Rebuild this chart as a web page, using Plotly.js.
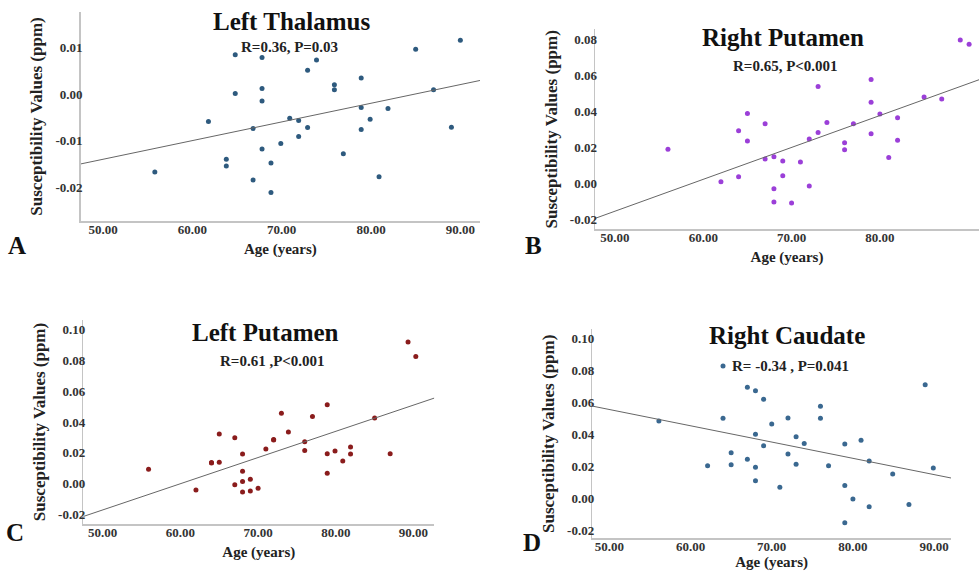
<!DOCTYPE html>
<html><head><meta charset="utf-8">
<script src="https://cdn.plot.ly/plotly-3.0.1.min.js"></script>
<style>html,body{margin:0;padding:0;background:#fff;}#chart{width:979px;height:571px;}</style>
</head><body><div id="chart"></div>
<script>
// ---- Data ----
const thalamusLAge = [55.8, 61.8, 63.8, 63.8, 64.8, 64.8, 66.8, 66.8, 67.8, 67.8, 67.8, 67.8, 68.8, 68.8, 69.9, 70.9, 71.9, 71.9, 72.9, 72.9, 73.9, 75.9, 75.9, 76.9, 78.9, 78.9, 78.9, 79.9, 80.9, 81.9, 85.0, 87.0, 89.0, 90.0];
const thalamusLQSM = [-0.0167, -0.0059, -0.0140, -0.0154, 0.0084, 0.0001, -0.0074, -0.0184, 0.0078, 0.0012, -0.0015, -0.0118, -0.0148, -0.0211, -0.0106, -0.0052, -0.0057, -0.0091, 0.0051, -0.0072, 0.0073, 0.0020, 0.0009, -0.0128, 0.0034, -0.0029, -0.0076, -0.0054, -0.0177, -0.0031, 0.0096, 0.0009, -0.0071, 0.0115];

const putamenRAge = [56.0, 62.0, 64.0, 64.0, 65.0, 65.0, 67.0, 67.0, 68.0, 68.0, 68.0, 69.0, 69.0, 70.0, 71.0, 72.0, 72.0, 73.0, 73.0, 74.0, 76.0, 76.0, 77.0, 79.0, 79.0, 79.0, 80.0, 81.0, 82.0, 82.0, 85.0, 87.0, 89.1, 90.1];
const putamenRQSM = [0.0190, 0.0010, 0.0294, 0.0038, 0.0390, 0.0237, 0.0333, 0.0136, 0.0149, -0.0029, -0.0103, 0.0125, 0.0043, -0.0109, 0.0120, 0.0248, -0.0014, 0.0540, 0.0283, 0.0340, 0.0227, 0.0188, 0.0333, 0.0578, 0.0452, 0.0277, 0.0387, 0.0144, 0.0366, 0.0240, 0.0481, 0.0470, 0.0799, 0.0775];

const putamenLAge = [55.9, 62.0, 64.0, 64.0, 65.0, 65.0, 67.0, 67.0, 68.0, 68.0, 68.0, 68.0, 69.0, 69.0, 70.0, 71.0, 72.0, 72.0, 73.0, 73.9, 76.0, 76.0, 77.0, 78.9, 78.9, 78.9, 79.9, 80.9, 81.9, 81.9, 85.0, 87.0, 89.3, 90.3];
const putamenLQSM = [0.0092, -0.0042, 0.0133, 0.0136, 0.0322, 0.0138, 0.0298, -0.0008, 0.0192, 0.0079, 0.0012, -0.0055, 0.0027, -0.0049, -0.0031, 0.0225, 0.0283, 0.0286, 0.0457, 0.0335, 0.0272, 0.0214, 0.0435, 0.0513, 0.0194, 0.0066, 0.0212, 0.0146, 0.0238, 0.0192, 0.0426, 0.0194, 0.0921, 0.0826];

const caudateRAge = [56.1, 62.1, 64.0, 64.0, 65.0, 65.0, 67.0, 67.0, 68.0, 68.0, 68.0, 68.0, 69.0, 69.0, 70.0, 71.0, 72.0, 72.0, 73.0, 73.0, 74.0, 76.0, 76.0, 77.0, 79.0, 79.0, 79.0, 80.0, 81.0, 82.0, 82.0, 84.9, 86.9, 88.9, 89.9];
const caudateRQSM = [0.0482, 0.0202, 0.0826, 0.0499, 0.0284, 0.0208, 0.0693, 0.0242, 0.0672, 0.0399, 0.0192, 0.0108, 0.0618, 0.0327, 0.0463, 0.0067, 0.0501, 0.0275, 0.0384, 0.0211, 0.0342, 0.0574, 0.0499, 0.0202, 0.0338, 0.0079, -0.0155, -0.0006, 0.0361, 0.0232, -0.0054, 0.0150, -0.0040, 0.0709, 0.0188];

const panelTitles = ['Left Thalamus', 'Right Putamen', 'Left Putamen', 'Right Caudate'];
const panelStats = ['R=0.36, P=0.03', 'R=0.65, P&lt;0.001', 'R=0.61 ,P&lt;0.001', 'R= -0.34 , P=0.041'];
const panelLetters = ['A', 'B', 'C', 'D'];

const xTickVals = [50, 60, 70, 80, 90];
const xTickText = ['50.00', '60.00', '70.00', '80.00', '90.00'];
const yTickValsA = [-0.02, -0.01, 0.00, 0.01];
const yTickTextA = ['-0.02', '-0.01', '0.00', '0.01'];
const yTickValsB = [-0.02, 0.00, 0.02, 0.04, 0.06, 0.08];
const yTickTextB = ['-0.02', '0.00', '0.02', '0.04', '0.06', '0.08'];
const yTickValsCD = [-0.02, 0.00, 0.02, 0.04, 0.06, 0.08, 0.10];
const yTickTextCD = ['-0.02', '0.00', '0.02', '0.04', '0.06', '0.08', '0.10'];

// ---- Layout helpers ----
const W = 979, H = 571;
const FONT = 'Liberation Serif, Times New Roman, serif';
const px = v => v / W;
const py = v => 1 - v / H;

function ols(x, y) {
  const n = x.length;
  const mx = x.reduce((a, b) => a + b, 0) / n;
  const my = y.reduce((a, b) => a + b, 0) / n;
  let sxy = 0, sxx = 0;
  for (let i = 0; i < n; i++) { sxy += (x[i] - mx) * (y[i] - my); sxx += (x[i] - mx) ** 2; }
  const b = sxy / sxx;
  return { a: my - b * mx, b: b };
}

const panels = [
  { age: thalamusLAge, qsm: thalamusLQSM, color: '#2e5a7e', xr: [47.5, 92.2], yr: [-0.0272, 0.01756],
    dom: [[80.7, 480], [12, 221]], yv: yTickValsA, yt: yTickTextA },
  { age: putamenRAge, qsm: putamenRQSM, color: '#9b3fd8', xr: [47.74, 91.22], yr: [-0.0255, 0.0858],
    dom: [[595, 979], [29.3, 229.3]], yv: yTickValsB, yt: yTickTextB },
  { age: putamenLAge, qsm: putamenLQSM, color: '#8a1c1c', xr: [47.5, 92.68], yr: [-0.0264, 0.1064],
    dom: [[83.3, 434.3], [320, 524]], yv: yTickValsCD, yt: yTickTextCD },
  { age: caudateRAge, qsm: caudateRQSM, color: '#3a6890', xr: [47.9, 92.08], yr: [-0.0252, 0.1056],
    dom: [[592.3, 951], [329.3, 538.3]], yv: yTickValsCD, yt: yTickTextCD }
];

const titlePos = [[291, 22], [783, 38], [265, 332], [787, 335]];
const statPos = [[289, 47], [785, 66], [272, 361], [790, 366]];
const letterPos = [[17, 245], [533, 245], [15, 532], [532, 542]];

const traces = [];
const layout = {
  width: W, height: H, margin: { l: 0, r: 0, t: 0, b: 0 },
  paper_bgcolor: '#fff', plot_bgcolor: '#fff', showlegend: false,
  font: { family: FONT, color: '#222' },
  annotations: []
};

panels.forEach((p, i) => {
  const k = i === 0 ? '' : String(i + 1);
  const xa = 'x' + k, ya = 'y' + k;
  traces.push({
    type: 'scatter', mode: 'markers', x: p.age, y: p.qsm, xaxis: xa, yaxis: ya,
    marker: { size: 5, color: p.color }, cliponaxis: false, hoverinfo: 'x+y'
  });
  const fit = ols(p.age, p.qsm);
  traces.push({
    type: 'scatter', mode: 'lines', x: p.xr, y: p.xr.map(v => fit.a + fit.b * v),
    xaxis: xa, yaxis: ya, line: { color: '#666', width: 1 }, hoverinfo: 'skip'
  });
  const axCommon = {
    showgrid: false, zeroline: false, showline: true, linecolor: '#c4c4c4', linewidth: 1.5,
    ticks: '', tickfont: { family: FONT, size: 13, color: '#333', weight: 'bold' }, fixedrange: true
  };
  layout['xaxis' + k] = Object.assign({}, axCommon, {
    domain: [px(p.dom[0][0]), Math.min(1, px(p.dom[0][1]))], range: p.xr, anchor: ya,
    tickmode: 'array', tickvals: xTickVals, ticktext: xTickText, ticklabelstandoff: -4,
    title: { text: 'Age (years)', font: { family: FONT, size: 15, color: '#222', weight: 'bold' }, standoff: 7 }
  });
  layout['yaxis' + k] = Object.assign({}, axCommon, {
    domain: [py(p.dom[1][1]), py(p.dom[1][0])], range: p.yr, anchor: xa,
    tickmode: 'array', tickvals: p.yv, ticktext: p.yt, ticklabelstandoff: -6,
    title: { text: 'Susceptibility Values (ppm)', font: { family: FONT, size: 17, color: '#222', weight: 'bold' }, standoff: 8 }
  });
  layout.annotations.push({
    xref: 'paper', yref: 'paper', x: px(titlePos[i][0]), y: py(titlePos[i][1]), xanchor: 'center', yanchor: 'middle',
    text: panelTitles[i], showarrow: false, font: { family: FONT, size: 25, color: '#111', weight: 'bold' }
  });
  layout.annotations.push({
    xref: 'paper', yref: 'paper', x: px(statPos[i][0]), y: py(statPos[i][1]), xanchor: 'center', yanchor: 'middle',
    text: panelStats[i], showarrow: false, font: { family: FONT, size: 15, color: '#222', weight: 'bold' }
  });
  layout.annotations.push({
    xref: 'paper', yref: 'paper', x: px(letterPos[i][0]), y: py(letterPos[i][1]), xanchor: 'center', yanchor: 'middle',
    text: panelLetters[i], showarrow: false, font: { family: FONT, size: 25, color: '#111', weight: 'bold' }
  });
});

Plotly.newPlot('chart', traces, layout, { displayModeBar: false, staticPlot: true });
</script>
</body></html>
